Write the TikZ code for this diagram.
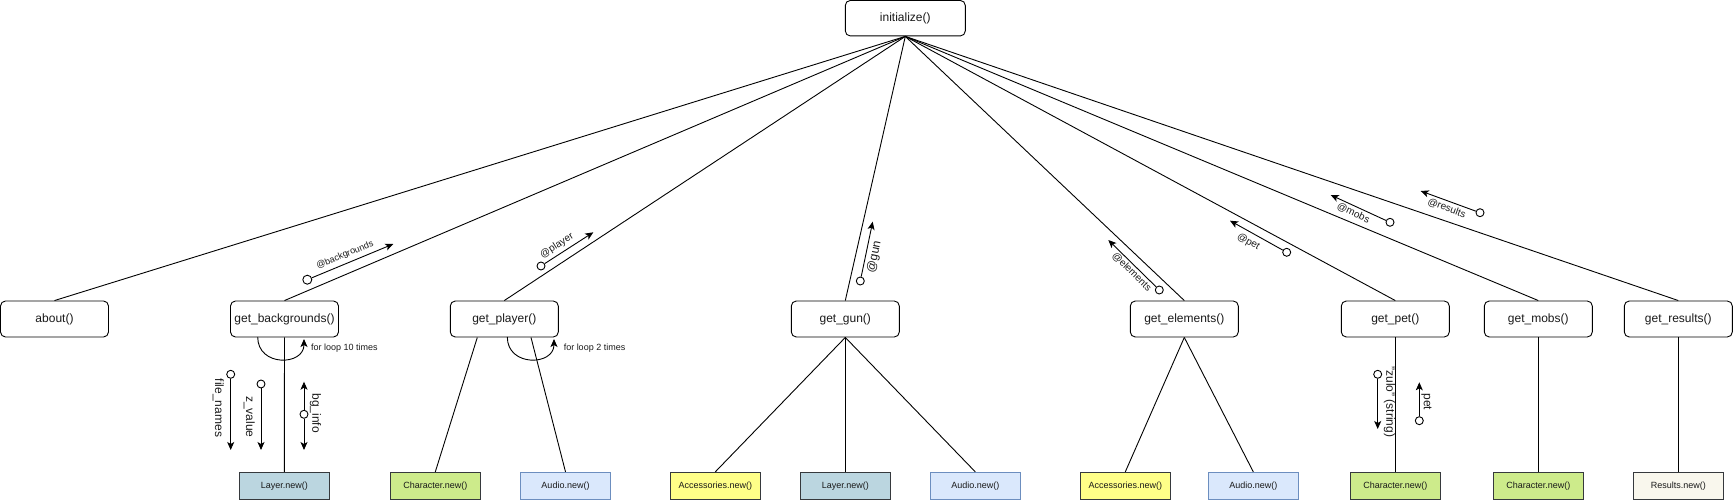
\documentclass[tikz,border=0pt]{standalone}
\usepackage{fontspec}
\setmainfont{Liberation Sans}
\usetikzlibrary{arrows.meta,calc}
\definecolor{layerfill}{HTML}{BBD6E0}
\definecolor{charfill}{HTML}{CDEB8B}
\definecolor{audiofill}{HTML}{DAE8FC}
\definecolor{audiodraw}{HTML}{6C8EBF}
\definecolor{accfill}{HTML}{FFFF88}
\definecolor{resfill}{HTML}{F9F7ED}
\definecolor{objdraw}{HTML}{36393D}
\definecolor{txt}{HTML}{1A1A1A}
\begin{document}
\begin{tikzpicture}[x=1pt,y=-1pt,line width=0.9pt,
  fn/.style={draw=black, fill=white, rounded corners=5pt, minimum width=108pt, minimum height=36pt, inner sep=0pt, text=txt, font=\fontsize{12}{14}\selectfont},
  obj/.style={draw=objdraw, minimum width=90pt, minimum height=27pt, inner sep=0pt, text=txt, font=\fontsize{9}{11}\selectfont},
  layerbox/.style={obj, fill=layerfill},
  charbox/.style={obj, fill=charfill},
  audiobox/.style={obj, fill=audiofill, draw=audiodraw},
  accbox/.style={obj, fill=accfill},
  resbox/.style={obj, fill=resfill},
  link/.style={draw=black, line width=0.9pt},
  port/.style={circle, draw=black, fill=white, line width=0.9pt, minimum size=8pt, inner sep=0pt},
  flow/.style={draw=black, line width=0.9pt, -{Stealth[length=8pt,width=7pt,inset=2pt]}},
  lbl/.style={inner sep=0pt, text=txt, font=\fontsize{10}{12}\selectfont},
  biglbl/.style={inner sep=0pt, text=txt, font=\fontsize{12}{14}\selectfont},
  smalllbl/.style={inner sep=0pt, text=txt, font=\fontsize{9}{11}\selectfont}
]
\useasboundingbox (0,0) rectangle (1733,500);

% top node
\node[fn, minimum width=120pt, minimum height=35.5pt] (init) at (905.3,18.2) {initialize()};

% second row
\node[fn] (about) at (54.5,319) {about()};
\node[fn] (gb) at (284.5,319) {get\_backgrounds()};
\node[fn] (gp) at (504.3,319) {get\_player()};
\node[fn] (gg) at (845.3,319) {get\_gun()};
\node[fn] (ge) at (1184.3,319) {get\_elements()};
\node[fn] (gpet) at (1395.3,319) {get\_pet()};
\node[fn] (gm) at (1538.3,319) {get\_mobs()};
\node[fn] (gr) at (1678.3,319) {get\_results()};

% bottom row
\node[layerbox] (lbg) at (284.3,485.8) {Layer.new()};
\node[charbox] (cp) at (435.3,485.8) {Character.new()};
\node[audiobox] (ap) at (565.5,485.8) {Audio.new()};
\node[accbox] (acg) at (715.3,485.8) {Accessories.new()};
\node[layerbox] (lg) at (845.3,485.8) {Layer.new()};
\node[audiobox] (ag) at (975.3,485.8) {Audio.new()};
\node[accbox] (ace) at (1125.3,485.8) {Accessories.new()};
\node[audiobox] (ae) at (1253.3,485.8) {Audio.new()};
\node[charbox] (cpet) at (1395.3,485.8) {Character.new()};
\node[charbox] (cm) at (1538.3,485.8) {Character.new()};
\node[resbox] (res) at (1678.3,485.8) {Results.new()};

% links to initialize
\foreach \n in {about,gb,gp,gg,ge,gpet,gm,gr}
  \draw[link] (\n.north) -- (init.south);

% links to children
\draw[link] (gb.south) -- (lbg.north);
\draw[link] ($(gp.south)+(-27,0)$) -- (cp.north);
\draw[link] ($(gp.south)+(26.7,0)$) -- (ap.north);
\draw[link] (gg.south) -- (acg.north);
\draw[link] (gg.south) -- (lg.north);
\draw[link] (gg.south) -- (ag.north);
\draw[link] (ge.south) -- (ace.north);
\draw[link] (ge.south) -- (ae.north);
\draw[link] (gpet.south) -- (cpet.north);
\draw[link] (gm.south) -- (cm.north);
\draw[link] (gr.south) -- (res.north);

% loops
\coordinate (lbs) at (257.7,337);
\coordinate (lbe) at (304,339);
\draw[flow] (lbs) .. controls (257.7,367) and (304,366) .. (lbe);
\node[smalllbl, anchor=west] (l10) at (310.7,347.7) {for loop 10 times};
\coordinate (lps) at (507.3,337);
\coordinate (lpe) at (554,339);
\draw[flow] (lps) .. controls (507.3,367) and (554,366) .. (lpe);
\node[smalllbl, anchor=west] (l2) at (563.3,347.7) {for loop 2 times};

% vertical parameter arrows under get_backgrounds
\node[port] (pfn) at (230.7,374.3) {};
\coordinate (hfn) at (230.7,450);
\draw[flow] (pfn) -- (hfn);
\node[biglbl, rotate=-90] (tfn) at (218.3,408) {file\_names};

\node[port] (pzv) at (261,384) {};
\coordinate (hzv) at (261,450);
\draw[flow] (pzv) -- (hzv);
\node[biglbl, rotate=-90] (tzv) at (249.3,416.7) {z\_value};

\node[port] (pbi) at (304,414.3) {};
\coordinate (hbi1) at (304,381.7);
\coordinate (hbi2) at (304,450);
\draw[flow] (pbi) -- (hbi1);
\draw[flow] (pbi) -- (hbi2);
\node[biglbl, rotate=-90] (tbi) at (315.5,413.3) {bg\_info};

% get_pet parameter arrows
\node[port] (pzu) at (1377.7,374.3) {};
\coordinate (hzu) at (1377.7,429);
\draw[flow] (pzu) -- (hzu);
\node[biglbl, rotate=-90] (tzu) at (1389.5,401.7) {"zulo" (string)};

\node[port] (ppt) at (1419.3,420.7) {};
\coordinate (hpt) at (1419.3,382.3);
\draw[flow] (ppt) -- (hpt);
\node[biglbl, rotate=-90] (tpt) at (1426.5,401.7) {pet};

% return arrows
\node[port, minimum size=9pt] (pbgr) at (307.3,279.7) {};
\coordinate (hbgr) at (393.3,244);
\draw[flow] (pbgr) -- (hbgr);
\node[smalllbl, rotate=22.5] (tbgr) at (345,255) {@backgrounds};

\node[port] (pply) at (541,266) {};
\coordinate (hply) at (593.3,232.3);
\draw[flow] (pply) -- (hply);
\node[lbl, rotate=32.8] (tply) at (557,246) {@player};

\node[port] (pgun) at (860.3,281) {};
\coordinate (hgun) at (872.7,221.7);
\draw[flow] (pgun) -- (hgun);
\node[biglbl, rotate=78.2] (tgun) at (874.5,256.7) {@gun};

\node[port] (pel) at (1159.3,290) {};
\coordinate (hel) at (1108.3,240);
\draw[flow] (pel) -- (hel);
\node[lbl, rotate=-44.4] (tel) at (1131.7,271.7) {@elements};

\node[port] (ppet) at (1286.7,252.3) {};
\coordinate (hpet) at (1230,220.7);
\draw[flow] (ppet) -- (hpet);
\node[lbl, rotate=-29.1] (tpet) at (1248.3,241.7) {@pet};

\node[port] (pmob) at (1390,222.3) {};
\coordinate (hmob) at (1330.7,195);
\draw[flow] (pmob) -- (hmob);
\node[lbl, rotate=-24.7] (tmob) at (1353.3,213.3) {@mobs};

\node[port] (pres) at (1480,212.7) {};
\coordinate (hres) at (1420.7,191);
\draw[flow] (pres) -- (hres);
\node[lbl, rotate=-20.1] (tres) at (1446.7,208.3) {@results};
\end{tikzpicture}
\end{document}
